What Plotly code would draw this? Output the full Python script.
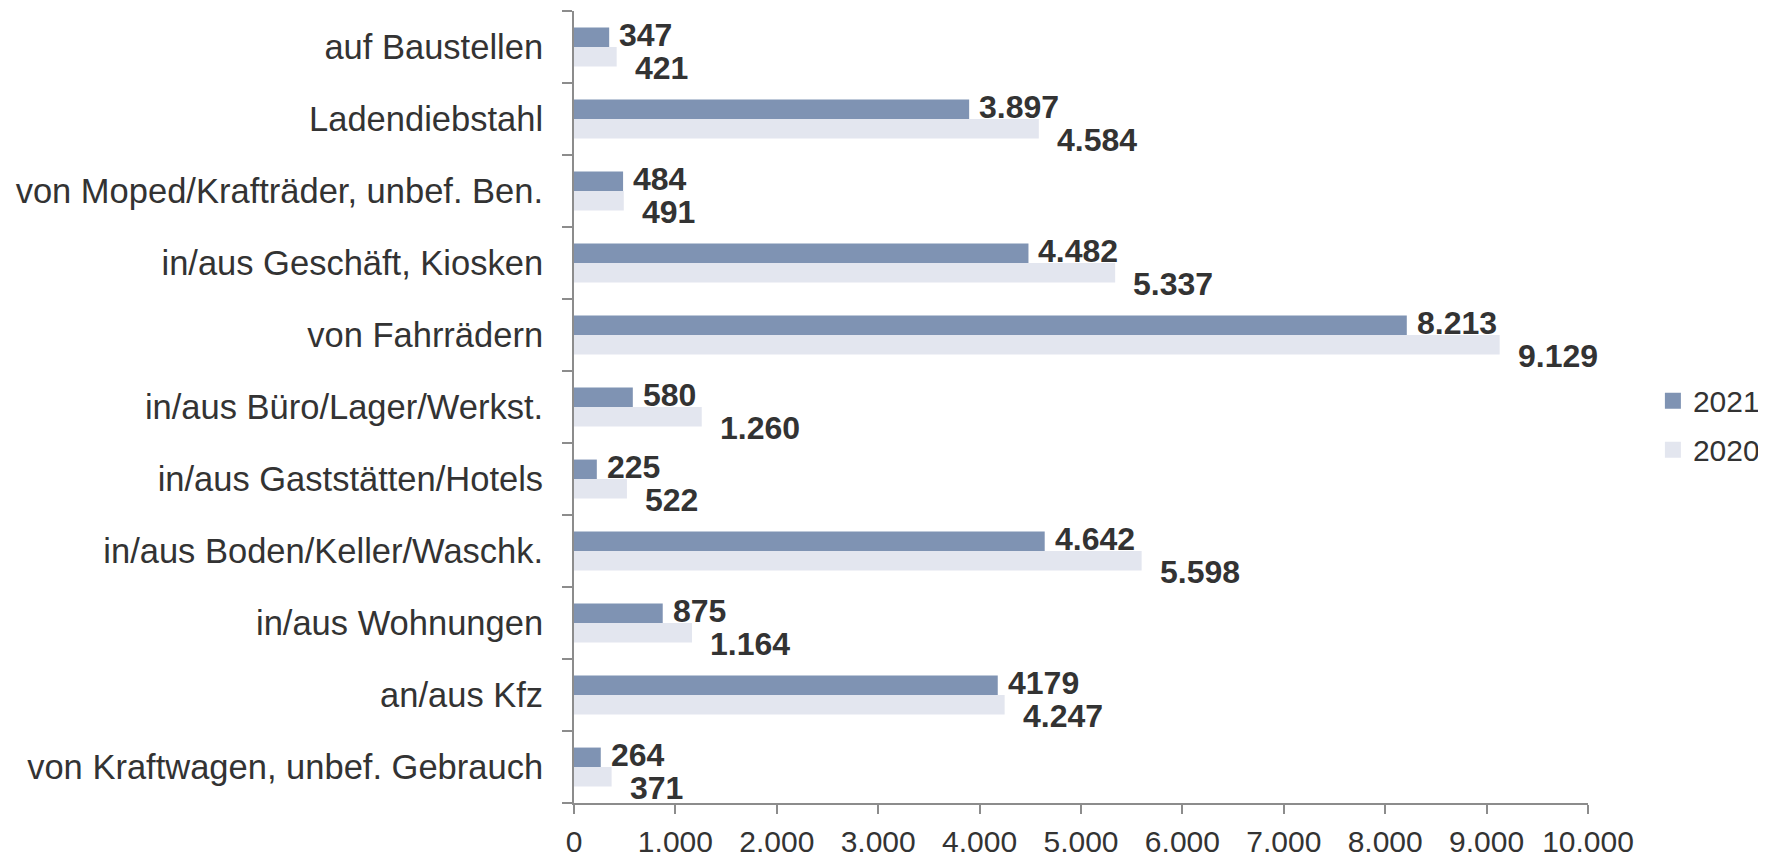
import plotly.graph_objects as go

categories = [
    "von Kraftwagen, unbef. Gebrauch",
    "an/aus Kfz",
    "in/aus Wohnungen",
    "in/aus Boden/Keller/Waschk.",
    "in/aus Gaststätten/Hotels",
    "in/aus Büro/Lager/Werkst.",
    "von Fahrrädern",
    "in/aus Geschäft, Kiosken",
    "von Moped/Krafträder, unbef. Ben.",
    "Ladendiebstahl",
    "auf Baustellen",
]
values_2021 = [264, 4179, 875, 4642, 225, 580, 8213, 4482, 484, 3897, 347]
values_2020 = [371, 4247, 1164, 5598, 522, 1260, 9129, 5337, 491, 4584, 421]
labels_2021 = ["264", "4179", "875", "4.642", "225", "580", "8.213", "4.482", "484", "3.897", "347"]
labels_2020 = ["371", "4.247", "1.164", "5.598", "522", "1.260", "9.129", "5.337", "491", "4.584", "421"]
x_ticks = [0, 1000, 2000, 3000, 4000, 5000, 6000, 7000, 8000, 9000, 10000]

FONT = "Liberation Sans, Arial, sans-serif"
TEXT = "#333333"
C2021 = "#7f93b3"
C2020 = "#e3e6ef"
AXIS = "#8c8c8c"

fig = go.Figure()
fig.add_trace(go.Bar(y=categories, x=values_2020, orientation="h", name="2020",
                     marker=dict(color=C2020, line=dict(width=0)), showlegend=False))
fig.add_trace(go.Bar(y=categories, x=values_2021, orientation="h", name="2021",
                     marker=dict(color=C2021, line=dict(width=0)), showlegend=False))
# legend-only entries with larger square symbols
fig.add_trace(go.Scatter(x=[None], y=[None], mode="markers", name="2021",
                         marker=dict(symbol="square", size=18, color=C2021),
                         legendgroup="a", legendrank=1))
fig.add_trace(go.Scatter(x=[None], y=[None], mode="markers", name="2020",
                         marker=dict(symbol="square", size=18, color=C2020),
                         legendgroup="b", legendrank=2))

bargap = 0.46
half = (1 - bargap) / 4
annotations = []
for i, (v, t) in enumerate(zip(values_2021, labels_2021)):
    annotations.append(dict(x=v, y=i + half, xref="x", yref="y", text=f"<b>{t}</b>",
                            showarrow=False, xanchor="left", yanchor="middle",
                            xshift=8, yshift=2,
                            font=dict(family=FONT, size=32, color=TEXT)))
for i, (v, t) in enumerate(zip(values_2020, labels_2020)):
    annotations.append(dict(x=v, y=i - half, xref="x", yref="y", text=f"<b>{t}</b>",
                            showarrow=False, xanchor="left", yanchor="middle",
                            xshift=16, yshift=-11,
                            font=dict(family=FONT, size=32, color=TEXT)))

fig.update_layout(
    template="none",
    width=1766, height=855,
    margin=dict(l=566, r=186, t=3, b=60, autoexpand=False),
    paper_bgcolor="white", plot_bgcolor="white",
    barmode="group", bargap=bargap, bargroupgap=0,
    separators=",.",
    font=dict(family=FONT, size=30, color=TEXT),
    showlegend=True,
    legend=dict(x=1.064, y=0.477, xanchor="left", yanchor="middle",
                traceorder="grouped", tracegroupgap=7,
                font=dict(family=FONT, size=30, color=TEXT),
                itemwidth=30, bgcolor="rgba(0,0,0,0)"),
    annotations=annotations,
)
fig.update_xaxes(range=[0, 10000], tickvals=x_ticks, tickformat=",d", automargin=False,
                 showgrid=False, zeroline=False, showline=True, linecolor=AXIS, linewidth=2,
                 ticks="outside", ticklen=9, tickwidth=2, tickcolor=AXIS,
                 tickfont=dict(family=FONT, size=30, color=TEXT), ticklabelstandoff=2)
fig.update_yaxes(type="category", range=[-0.5, 10.5], tickson="boundaries", automargin=False,
                 showgrid=False, zeroline=False, showline=True, linecolor=AXIS, linewidth=2,
                 ticks="outside", ticklen=10, tickwidth=2, tickcolor=AXIS,
                 tickfont=dict(family=FONT, size=34.5, color=TEXT), ticklabelstandoff=22)

fig.write_html("out.html")
